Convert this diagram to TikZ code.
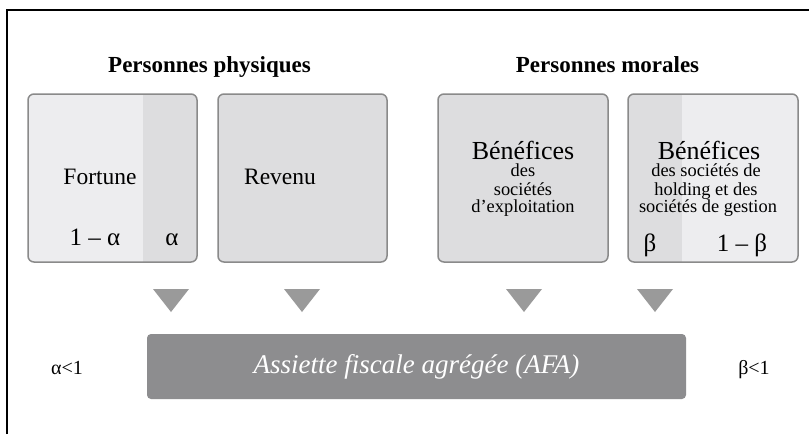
\documentclass[tikz,border=0pt]{standalone}
\usepackage{fontspec}
\setmainfont{Liberation Serif}
\definecolor{lightg}{HTML}{EDEDEF}
\definecolor{darkg}{HTML}{DDDDDF}
\definecolor{framegrey}{HTML}{8A8A8A}
\definecolor{trigrey}{HTML}{9A9A9A}
\definecolor{bargrey}{HTML}{8D8D8F}
\tikzset{
  boxframe/.style={draw=framegrey, line width=1.5pt, rounded corners=6pt,
    minimum width=169pt, minimum height=168pt, inner sep=0pt, outer sep=0pt},
  titletext/.style={anchor=base, inner sep=0pt, font=\bfseries\fontsize{23}{27}\selectfont},
  bigtext/.style={anchor=base, inner sep=0pt, font=\fontsize{23.5}{28}\selectfont},
  numtext/.style={anchor=base, inner sep=0pt, font=\fontsize{25}{30}\selectfont},
  headtext/.style={anchor=base, inner sep=0pt, text depth=0pt, font=\fontsize{26}{30}\selectfont},
  smalltext/.style={anchor=base, inner sep=0pt, font=\fontsize{18.4}{20}\selectfont},
  sidetext/.style={anchor=base, inner sep=0pt, font=\fontsize{20}{24}\selectfont},
  tri/.style={fill=trigrey},
}
\begin{document}
\begin{tikzpicture}[x=1pt,y=-1pt]
\useasboundingbox (0,0) rectangle (809,434);
\fill[white] (0,0) rectangle (809,434);
% outer frame
\coordinate (fbl) at (7,434);
\coordinate (ftl) at (7,10);
\coordinate (ftr) at (809,10);
\draw[black, line width=1.6pt] (fbl) -- (ftl) -- (ftr);

% titles
\node[titletext] (t1) at (209.5,72) {Personnes physiques};
\node[titletext] (t2) at (607.5,72) {Personnes morales};

% box fills
\fill[lightg, rounded corners=6pt] (28,94) rectangle (197,262);
\begin{scope}
  \clip[rounded corners=6pt] (28,94) rectangle (197,262);
  \fill[darkg] (143,90) rectangle (200,266);
\end{scope}
\fill[darkg, rounded corners=6pt] (218,94) rectangle (387,262);
\fill[darkg, rounded corners=6pt] (438,94) rectangle (608,262);
\fill[lightg, rounded corners=6pt] (628,94) rectangle (798,262);
\begin{scope}
  \clip[rounded corners=6pt] (628,94) rectangle (798,262);
  \fill[darkg] (620,90) rectangle (682,266);
\end{scope}

% box frames
\node[boxframe] (b1) at (112.5,178) {};
\node[boxframe] (b2) at (302.5,178) {};
\node[boxframe, minimum width=170pt] (b3) at (523,178) {};
\node[boxframe, minimum width=170pt] (b4) at (713,178) {};

% box texts
\node[bigtext] (fortune) at (100,184) {Fortune};
\node[numtext] (oma) at (95,245) {1 – α};
\node[numtext] (alpha) at (172,245) {α};
\node[bigtext] (revenu) at (280,184) {Revenu};

\node[headtext] (ben1) at (523,159) {Bénéfices};
\node[smalltext] (l11) at (523,176) {des};
\node[smalltext] (l12) at (523,195) {sociétés};
\node[smalltext] (l13) at (523,212.5) {d’exploitation};

\node[headtext] (ben2) at (709,159) {Bénéfices};
\node[smalltext] (l21) at (706,176) {des sociétés de};
\node[smalltext] (l22) at (706,195) {holding et des};
\node[smalltext] (l23) at (708,212.5) {sociétés de gestion};
\node[numtext] (beta) at (650,251) {β};
\node[numtext] (omb) at (742,251) {1 – β};

% triangles
\foreach \cx/\nm in {171/ta,302/tb,524/tc,655/td}{
  \coordinate (\nm l) at (\cx-18,289);
  \coordinate (\nm r) at (\cx+18,289);
  \coordinate (\nm t) at (\cx,312);
  \fill[tri] (\nm l) -- (\nm r) -- (\nm t) -- cycle;
}

% aggregate bar
\node[fill=bargrey, rounded corners=4pt, minimum width=539pt, minimum height=65pt,
      inner sep=0pt, outer sep=0pt, text=white,
      font=\itshape\fontsize{27}{30}\selectfont] (afa) at (416.5,366.5) {Assiette fiscale agrégée (AFA)};

\node[sidetext] (alc) at (67,374) {α<1};
\node[sidetext] (blc) at (754,374) {β<1};
\end{tikzpicture}
\end{document}
